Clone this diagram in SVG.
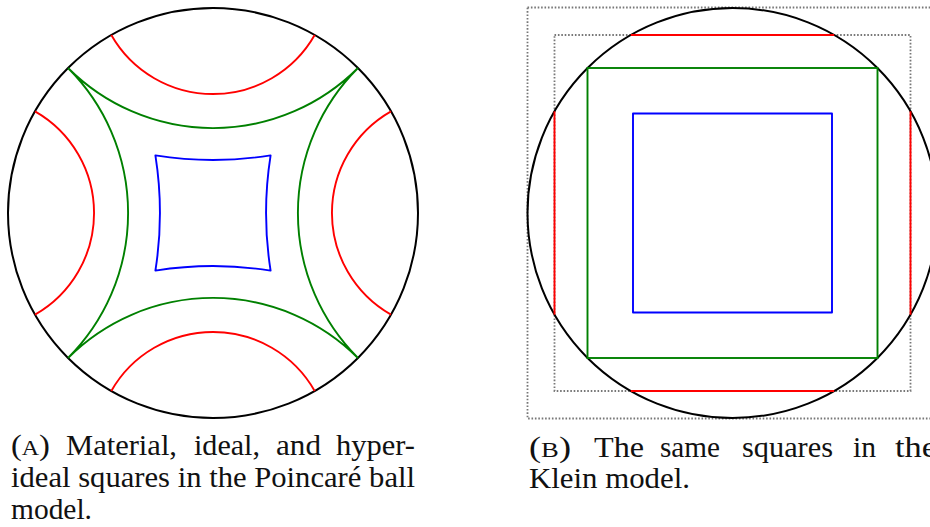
<svg xmlns="http://www.w3.org/2000/svg" width="930" height="527" viewBox="0 0 930 527">
<style>
.bg{fill:#ffffff}
.disk{fill:none;stroke:#000;stroke-width:2}
.red{fill:none;stroke:#ff0000;stroke-width:1.9}
.green{fill:none;stroke:#008000;stroke-width:1.9;stroke-linejoin:miter}
.blue{fill:none;stroke:#0000ff;stroke-width:1.9;stroke-linejoin:round}
.dot{fill:none;stroke:#777777;stroke-width:1.8;stroke-dasharray:1.6 1.8}
.cap{font-family:"Liberation Serif","DejaVu Serif",serif;font-size:30px;fill:#111}
.sc{font-size:22px}
</style>
<rect class="bg" x="0" y="0" width="930" height="527"/>

<g id="poincare">
  <circle id="poincare-disk" class="disk" cx="213" cy="213" r="205"/>
  <g id="poincare-hyperideal">
    <path class="red" d="M111.3,35 A117.1,117.1 0 0 0 314.7,35"/>
    <path class="red" d="M111.3,391 A117.1,117.1 0 0 1 314.7,391"/>
    <path class="red" d="M35,111.3 A117.1,117.1 0 0 1 35,314.7"/>
    <path class="red" d="M391,111.3 A117.1,117.1 0 0 0 391,314.7"/>
  </g>
  <g id="poincare-ideal">
    <path class="green" d="M68.04,68.04 A205,205 0 0 0 357.96,68.04 A205,205 0 0 0 357.96,357.96 A205,205 0 0 0 68.04,357.96 A205,205 0 0 0 68.04,68.04 Z"/>
  </g>
  <g id="poincare-material">
    <path class="blue" d="M155.4,155.4 A369.2,369.2 0 0 0 270.6,155.4 A369.2,369.2 0 0 0 270.6,270.6 A369.2,369.2 0 0 0 155.4,270.6 A369.2,369.2 0 0 0 155.4,155.4 Z"/>
  </g>
</g>

<g id="klein">
  <rect id="klein-outer-box" class="dot" x="527.5" y="7.5" width="411" height="411"/>
  <rect id="klein-inner-box" class="dot" x="554.5" y="35" width="356" height="356"/>
  <circle id="klein-disk" class="disk" cx="732.5" cy="213" r="205"/>
  <g id="klein-hyperideal">
    <line class="red" x1="630.8" y1="35" x2="834.2" y2="35"/>
    <line class="red" x1="630.8" y1="391" x2="834.2" y2="391"/>
    <line class="red" x1="554.5" y1="111.3" x2="554.5" y2="314.7"/>
    <line class="red" x1="910.5" y1="111.3" x2="910.5" y2="314.7"/>
  </g>
  <g id="klein-ideal">
    <rect class="green" x="587.5" y="68" width="290" height="290"/>
  </g>
  <g id="klein-material">
    <rect class="blue" x="633" y="113.5" width="199" height="199"/>
  </g>
</g>

<g id="caption-a" class="cap">
  <text x="11" y="455" textLength="39" lengthAdjust="spacingAndGlyphs">(<tspan class="sc">A</tspan>)</text>
  <text x="66" y="455" textLength="111" lengthAdjust="spacingAndGlyphs">Material,</text>
  <text x="194" y="455" textLength="66" lengthAdjust="spacingAndGlyphs">ideal,</text>
  <text x="276" y="455" textLength="45" lengthAdjust="spacingAndGlyphs">and</text>
  <text x="336" y="455" textLength="79" lengthAdjust="spacingAndGlyphs">hyper-</text>
  <text x="11" y="487" textLength="404" lengthAdjust="spacingAndGlyphs">ideal squares in the Poincaré ball</text>
  <text x="11" y="519" textLength="81" lengthAdjust="spacingAndGlyphs">model.</text>
</g>

<g id="caption-b" class="cap">
  <text x="529" y="457" textLength="42" lengthAdjust="spacingAndGlyphs">(<tspan class="sc">B</tspan>)</text>
  <text x="594" y="457" textLength="50" lengthAdjust="spacingAndGlyphs">The</text>
  <text x="660" y="457" textLength="60" lengthAdjust="spacingAndGlyphs">same</text>
  <text x="742" y="457" textLength="91" lengthAdjust="spacingAndGlyphs">squares</text>
  <text x="853" y="457" textLength="23" lengthAdjust="spacingAndGlyphs">in</text>
  <text x="895" y="457" textLength="42" lengthAdjust="spacingAndGlyphs">the</text>
  <text x="529" y="488" textLength="161" lengthAdjust="spacingAndGlyphs">Klein model.</text>
</g>
</svg>
